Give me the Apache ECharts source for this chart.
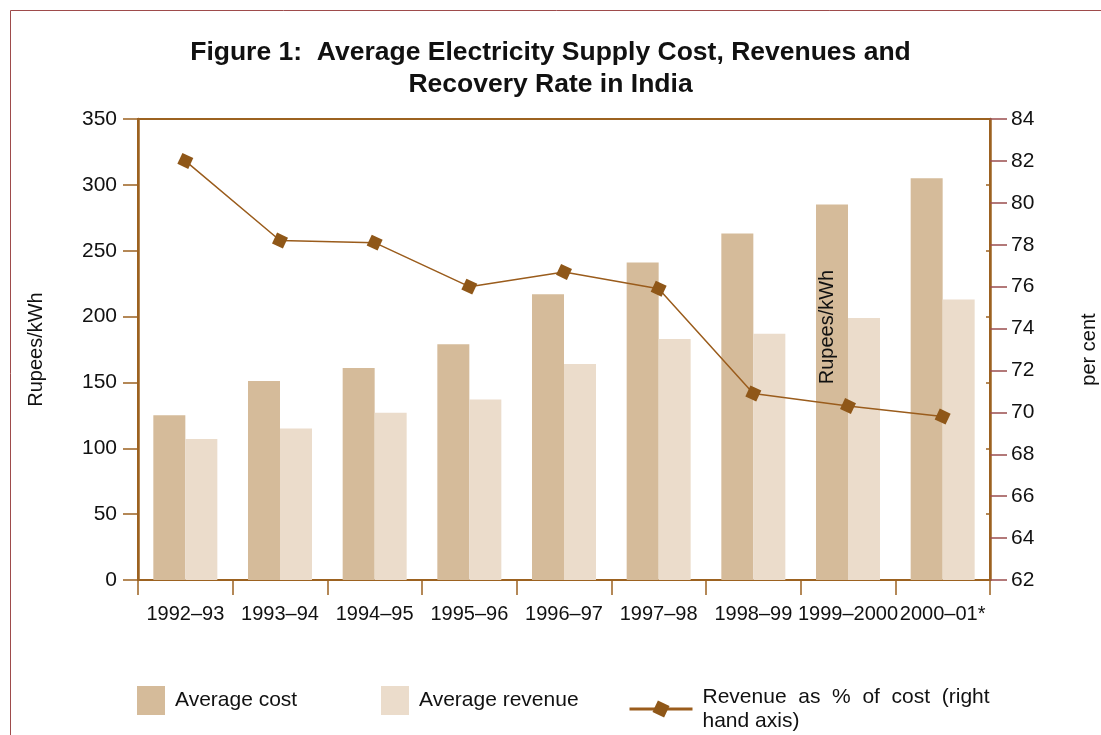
<!DOCTYPE html>
<html>
<head>
<meta charset="utf-8">
<script src="https://cdn.jsdelivr.net/npm/echarts@6/dist/echarts.min.js"></script>
<style>
  html, body { margin: 0; padding: 0; background: #ffffff; }
  #chart { width: 1101px; height: 735px; }
</style>
</head>
<body>
<div id="chart"></div>
<script>
// Fiscal years on the category axis
const years = ['1992–93', '1993–94', '1994–95', '1995–96', '1996–97', '1997–98', '1998–99', '1999–2000', '2000–01*'];

// Rupees/kWh (left axis)
const averageCost = [125, 151, 161, 179, 217, 241, 263, 285, 305];
const averageRevenue = [107, 115, 127, 137, 164, 183, 187, 199, 213];

// Recovery rate, per cent (right axis)
const recoveryRate = [82.0, 78.2, 78.1, 76.0, 76.7, 75.9, 70.9, 70.3, 69.8];

// Axis ranges and tick spacing
const leftTicks = { min: 0, max: 350, interval: 50 };
const rightTicks = { min: 62, max: 84, interval: 2 };

const FONT = 'Liberation Sans, Arial, sans-serif';
const AXIS_BROWN = '#9C6220';
const TICK_RED = '#9A4E4E';
const COST_COLOR = '#D5BB9A';
const REVENUE_COLOR = '#EBDCCB';
const LINE_COLOR = '#9A5C1C';
const MARKER_COLOR = '#8F5718';

const chart = echarts.init(document.getElementById('chart'), null, { renderer: 'canvas' });

const legendText = { fontFamily: FONT, fontSize: 21, color: '#111111' };

const option = {
  backgroundColor: '#ffffff',
  animation: false,
  textStyle: { fontFamily: FONT },
  title: {
    text: 'Figure 1:  Average Electricity Supply Cost, Revenues and\nRecovery Rate in India',
    left: 'center',
    top: 37,
    padding: 0,
    textStyle: {
      fontFamily: FONT,
      fontSize: 26.5,
      fontWeight: 'bold',
      color: '#111111',
      lineHeight: 32,
      align: 'center'
    }
  },
  grid: {
    left: 138,
    right: 111,
    top: 119,
    bottom: 155,
    outerBoundsMode: 'none',
    containLabel: false,
    show: true,
    borderColor: AXIS_BROWN,
    borderWidth: 2,
    backgroundColor: 'transparent'
  },
  legend: [
    {
      data: ['Average cost'],
      left: 137,
      top: 686,
      padding: 0,
      itemWidth: 28,
      itemHeight: 29,
      icon: 'rect',
      textStyle: Object.assign({ padding: [0, 0, 4, 5] }, legendText)
    },
    {
      data: ['Average revenue'],
      left: 381,
      top: 686,
      padding: 0,
      itemWidth: 28,
      itemHeight: 29,
      icon: 'rect',
      textStyle: Object.assign({ padding: [0, 0, 4, 5] }, legendText)
    },
    {
      data: ['Revenue as % of cost (right hand axis)'],
      left: 628,
      top: 685,
      padding: 0,
      itemWidth: 63,
      itemHeight: 16,
      lineStyle: { width: 3, color: LINE_COLOR },
      formatter: function () {
        return 'Revenue  as  %  of  cost  (right\nhand axis)';
      },
      textStyle: Object.assign({ lineHeight: 24, padding: [0, 0, 0, 5] }, legendText)
    }
  ],
  xAxis: {
    type: 'category',
    data: years,
    boundaryGap: true,
    axisLine: { show: true, lineStyle: { color: AXIS_BROWN, width: 2 } },
    axisTick: { show: true, inside: false, length: 15, alignWithLabel: false, lineStyle: { color: AXIS_BROWN, width: 1.5 } },
    axisLabel: { fontFamily: FONT, fontSize: 20, color: '#111111', margin: 24, interval: 0 },
    splitLine: { show: false }
  },
  yAxis: [
    {
      type: 'value',
      position: 'left',
      min: leftTicks.min,
      max: leftTicks.max,
      interval: leftTicks.interval,
      name: 'Rupees/kWh',
      nameLocation: 'middle',
      nameGap: 92,
      nameTextStyle: { fontFamily: FONT, fontSize: 20, color: '#111111' },
      axisLine: { show: true, lineStyle: { color: AXIS_BROWN, width: 2.5 } },
      axisTick: { show: true, inside: false, length: 15, lineStyle: { color: AXIS_BROWN, width: 1.5 } },
      axisLabel: { fontFamily: FONT, fontSize: 21, color: '#111111', margin: 21 },
      splitLine: { show: false }
    },
    {
      type: 'value',
      position: 'right',
      min: rightTicks.min,
      max: rightTicks.max,
      interval: rightTicks.interval,
      name: 'per cent',
      nameLocation: 'middle',
      nameGap: 89,
      nameRotate: 90,
      nameTextStyle: { fontFamily: FONT, fontSize: 20, color: '#111111' },
      axisLine: { show: true, lineStyle: { color: AXIS_BROWN, width: 2.5 } },
      axisTick: { show: true, inside: false, length: 17, lineStyle: { color: TICK_RED, width: 1.5 } },
      axisLabel: { fontFamily: FONT, fontSize: 21, color: '#111111', margin: 21 },
      splitLine: { show: false }
    },
    {
      // short inner marks on the right spine at the left-scale positions
      type: 'value',
      position: 'right',
      min: leftTicks.min,
      max: leftTicks.max,
      interval: leftTicks.interval,
      axisLine: { show: false },
      axisTick: { show: true, inside: true, length: 4, lineStyle: { color: AXIS_BROWN, width: 1.5 } },
      axisLabel: { show: false },
      splitLine: { show: false }
    }
  ],
  series: [
    {
      name: 'Average cost',
      type: 'bar',
      yAxisIndex: 0,
      data: averageCost,
      barWidth: 32,
      barGap: '0%',
      itemStyle: { color: COST_COLOR },
      z: 2
    },
    {
      name: 'Average revenue',
      type: 'bar',
      yAxisIndex: 0,
      data: averageRevenue,
      barWidth: 32,
      barGap: '0%',
      itemStyle: { color: REVENUE_COLOR },
      z: 2
    },
    {
      name: 'Revenue as % of cost (right hand axis)',
      type: 'line',
      yAxisIndex: 1,
      data: recoveryRate,
      symbol: 'rect',
      symbolSize: 12,
      symbolRotate: -25,
      showAllSymbol: true,
      lineStyle: { color: LINE_COLOR, width: 1.5 },
      itemStyle: { color: MARKER_COLOR, borderWidth: 0 },
      z: 5
    }
  ],
  graphic: [
    {
      // outer frame
      type: 'rect',
      left: 8,
      top: 8,
      shape: { x: 0, y: 0, width: 1300, height: 900 },
      style: { fill: 'none', stroke: '#9E4B4B', lineWidth: 1 },
      silent: true,
      z: 0
    },
    {
      // unit note inside the plot
      type: 'text',
      x: 827,
      y: 327,
      rotation: Math.PI / 2,
      style: {
        text: 'Rupees/kWh',
        font: '20px ' + FONT,
        fill: '#111111',
        align: 'center',
        verticalAlign: 'middle'
      },
      z: 10
    }
  ]
};

chart.setOption(option);
</script>
</body>
</html>
